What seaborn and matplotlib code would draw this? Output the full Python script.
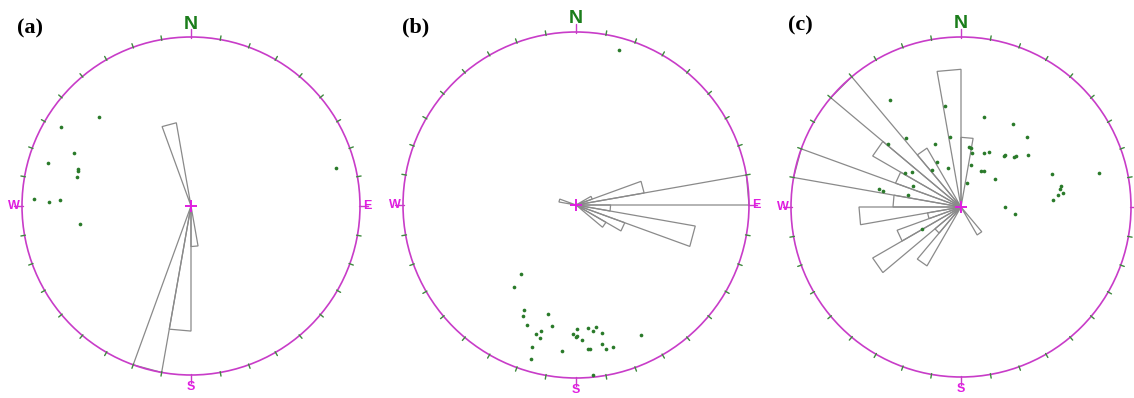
import numpy as np
import matplotlib
matplotlib.use("Agg")
import matplotlib.pyplot as plt
from matplotlib.patches import Circle, Polygon
import seaborn as sns

sns.set_theme(style="white")
plt.rcParams['font.family'] = ['Liberation Sans', 'DejaVu Sans']

# ---------------- data ----------------
panel_labels = ["(a)", "(b)", "(c)"]

# rose petals: start azimuth of each 10-degree bin and relative length (1 = primitive circle)
a_bins = [340, 170, 180, 190]
a_len = [0.50, 0.24, 0.74, 1.00]

b_bins = [280, 60, 70, 80, 90, 100, 110, 120]
b_len = [0.10, 0.10, 0.40, 1.00, 0.20, 0.70, 0.30, 0.20]

c_bins = [350, 0, 320, 310, 300, 290, 280, 270, 260, 250, 240, 230, 220, 210, 140]
c_len = [0.81, 0.41, 0.40, 1.00, 0.60, 0.41, 1.00, 0.40, 0.60, 0.20, 0.40, 0.60, 0.20, 0.40, 0.19]

# poles (projected coordinates inside the unit stereonet)
a_px = [-0.542, -0.769, -0.690, -0.848, -0.667, -0.667, -0.673, -0.927, -0.838, -0.775, -0.655, 0.858]
a_py = [0.529, 0.469, 0.314, 0.254, 0.221, 0.207, 0.174, 0.039, 0.022, 0.034, -0.108, 0.225]

b_px = [-0.318, -0.357, -0.302, -0.306, -0.162, -0.283, -0.140, -0.233, -0.202, -0.210,
        -0.256, -0.258, -0.079, -0.017, 0.006, -0.002, 0.006, 0.036, 0.068, 0.097,
        0.117, 0.152, 0.149, 0.175, 0.212, 0.068, 0.083, 0.377, 0.097, 0.247]
b_py = [-0.401, -0.472, -0.609, -0.643, -0.628, -0.695, -0.699, -0.746, -0.730, -0.767,
        -0.821, -0.888, -0.844, -0.744, -0.715, -0.765, -0.757, -0.780, -0.711, -0.730,
        -0.705, -0.740, -0.802, -0.831, -0.821, -0.834, -0.831, -0.753, -0.984, 0.894]

c_px = [-0.418, -0.094, 0.137, 0.308, 0.388, -0.325, -0.065, -0.431, -0.153, 0.047,
        0.056, 0.066, 0.137, 0.166, 0.255, 0.259, 0.314, 0.324, 0.392, -0.143,
        0.057, -0.078, -0.169, -0.329, -0.290, 0.118, 0.137, 0.202, 0.037, -0.281,
        -0.310, -0.481, -0.461, 0.537, 0.812, 0.588, 0.582, 0.598, 0.571, 0.541,
        0.257, 0.318, -0.231]
c_py = [0.629, 0.596, 0.531, 0.490, 0.410, 0.408, 0.410, 0.369, 0.369, 0.355,
        0.350, 0.316, 0.316, 0.324, 0.300, 0.306, 0.294, 0.298, 0.304, 0.266,
        0.249, 0.228, 0.218, 0.202, 0.204, 0.214, 0.214, 0.166, 0.139, 0.124,
        0.071, 0.104, 0.094, 0.196, 0.200, 0.125, 0.104, 0.084, 0.072, 0.039,
        -0.002, -0.043, -0.131]

# ---------------- layout (pixels) ----------------
W_PX, H_PX = 1134, 398
panels = [
    dict(cx=191, cy=206, R=169, bins=a_bins, lens=a_len, px=a_px, py=a_py, lab=(30, 28), east=True),
    dict(cx=576, cy=205, R=173, bins=b_bins, lens=b_len, px=b_px, py=b_py, lab=(416, 27), east=True),
    dict(cx=961, cy=207, R=170, bins=c_bins, lens=c_len, px=c_px, py=c_py, lab=(800, 25), east=False),
]

MAG = '#c83cc8'
MAG_TXT = '#e01ee0'
GREEN_TXT = '#1b7d1b'
TICK = '#3f8a3f'
DOT = '#2a7a2a'
PETAL = '#8a8a8a'

fig = plt.figure(figsize=(W_PX / 100, H_PX / 100), dpi=100)
fig.patch.set_facecolor('white')

L = 1.2
for i, p in enumerate(panels):
    R = p['R']
    w = 2 * L * R / W_PX
    h = 2 * L * R / H_PX
    ax = fig.add_axes([(p['cx'] - L * R) / W_PX, (H_PX - p['cy'] - L * R) / H_PX, w, h])
    ax.set_xlim(-L, L)
    ax.set_ylim(-L, L)
    ax.axis('off')
    ax.patch.set_alpha(0)

    # primitive circle
    ax.add_patch(Circle((0, 0), 1.0, fill=False, edgecolor=MAG, lw=1.2, zorder=3))
    # 10-degree ticks
    for az in range(0, 360, 10):
        t = np.deg2rad(az)
        col = MAG if az % 90 == 0 else TICK
        r2 = 1.045 if az % 90 == 0 else 1.022
        ax.plot([0.995 * np.sin(t), r2 * np.sin(t)], [0.995 * np.cos(t), r2 * np.cos(t)],
                color=col, lw=1.0, zorder=3)

    # rose petals
    for b0, ln in zip(p['bins'], p['lens']):
        t1, t2 = np.deg2rad(b0), np.deg2rad(b0 + 10)
        verts = [(0, 0), (ln * np.sin(t1), ln * np.cos(t1)), (ln * np.sin(t2), ln * np.cos(t2))]
        ax.add_patch(Polygon(verts, closed=True, fill=False, edgecolor=PETAL, lw=0.9, zorder=2))

    # poles
    sns.scatterplot(x=p['px'], y=p['py'], ax=ax, color=DOT, s=7, linewidth=0,
                    marker='o', zorder=4, legend=False)

    # centre cross
    ax.plot([0], [0], marker='+', ms=9, mew=1.4, color=MAG_TXT, zorder=5)

    # compass letters
    ax.text(0, 1 + 13 / R, 'N', color=GREEN_TXT, fontsize=14, fontweight='bold',
            ha='center', va='center', clip_on=False)
    ax.text(-(1 + 8 / R), 0, 'W', color=MAG_TXT, fontsize=9, fontweight='bold',
            ha='center', va='center', clip_on=False)
    if p['east']:
        ax.text(1 + 7 / R, 0, 'E', color=MAG_TXT, fontsize=9, fontweight='bold',
                ha='center', va='center', clip_on=False)
    ax.text(0, -(1 + 12 / R), 'S', color=MAG_TXT, fontsize=9, fontweight='bold',
            ha='center', va='center', clip_on=False)

    lx, ly = p['lab']
    fig.text(lx / W_PX, 1 - ly / H_PX, panel_labels[i], fontsize=16, fontweight='bold',
             color='black', family=['Liberation Serif', 'DejaVu Serif'],
             ha='center', va='center')

fig.savefig('out.png', dpi=100, facecolor='white')
